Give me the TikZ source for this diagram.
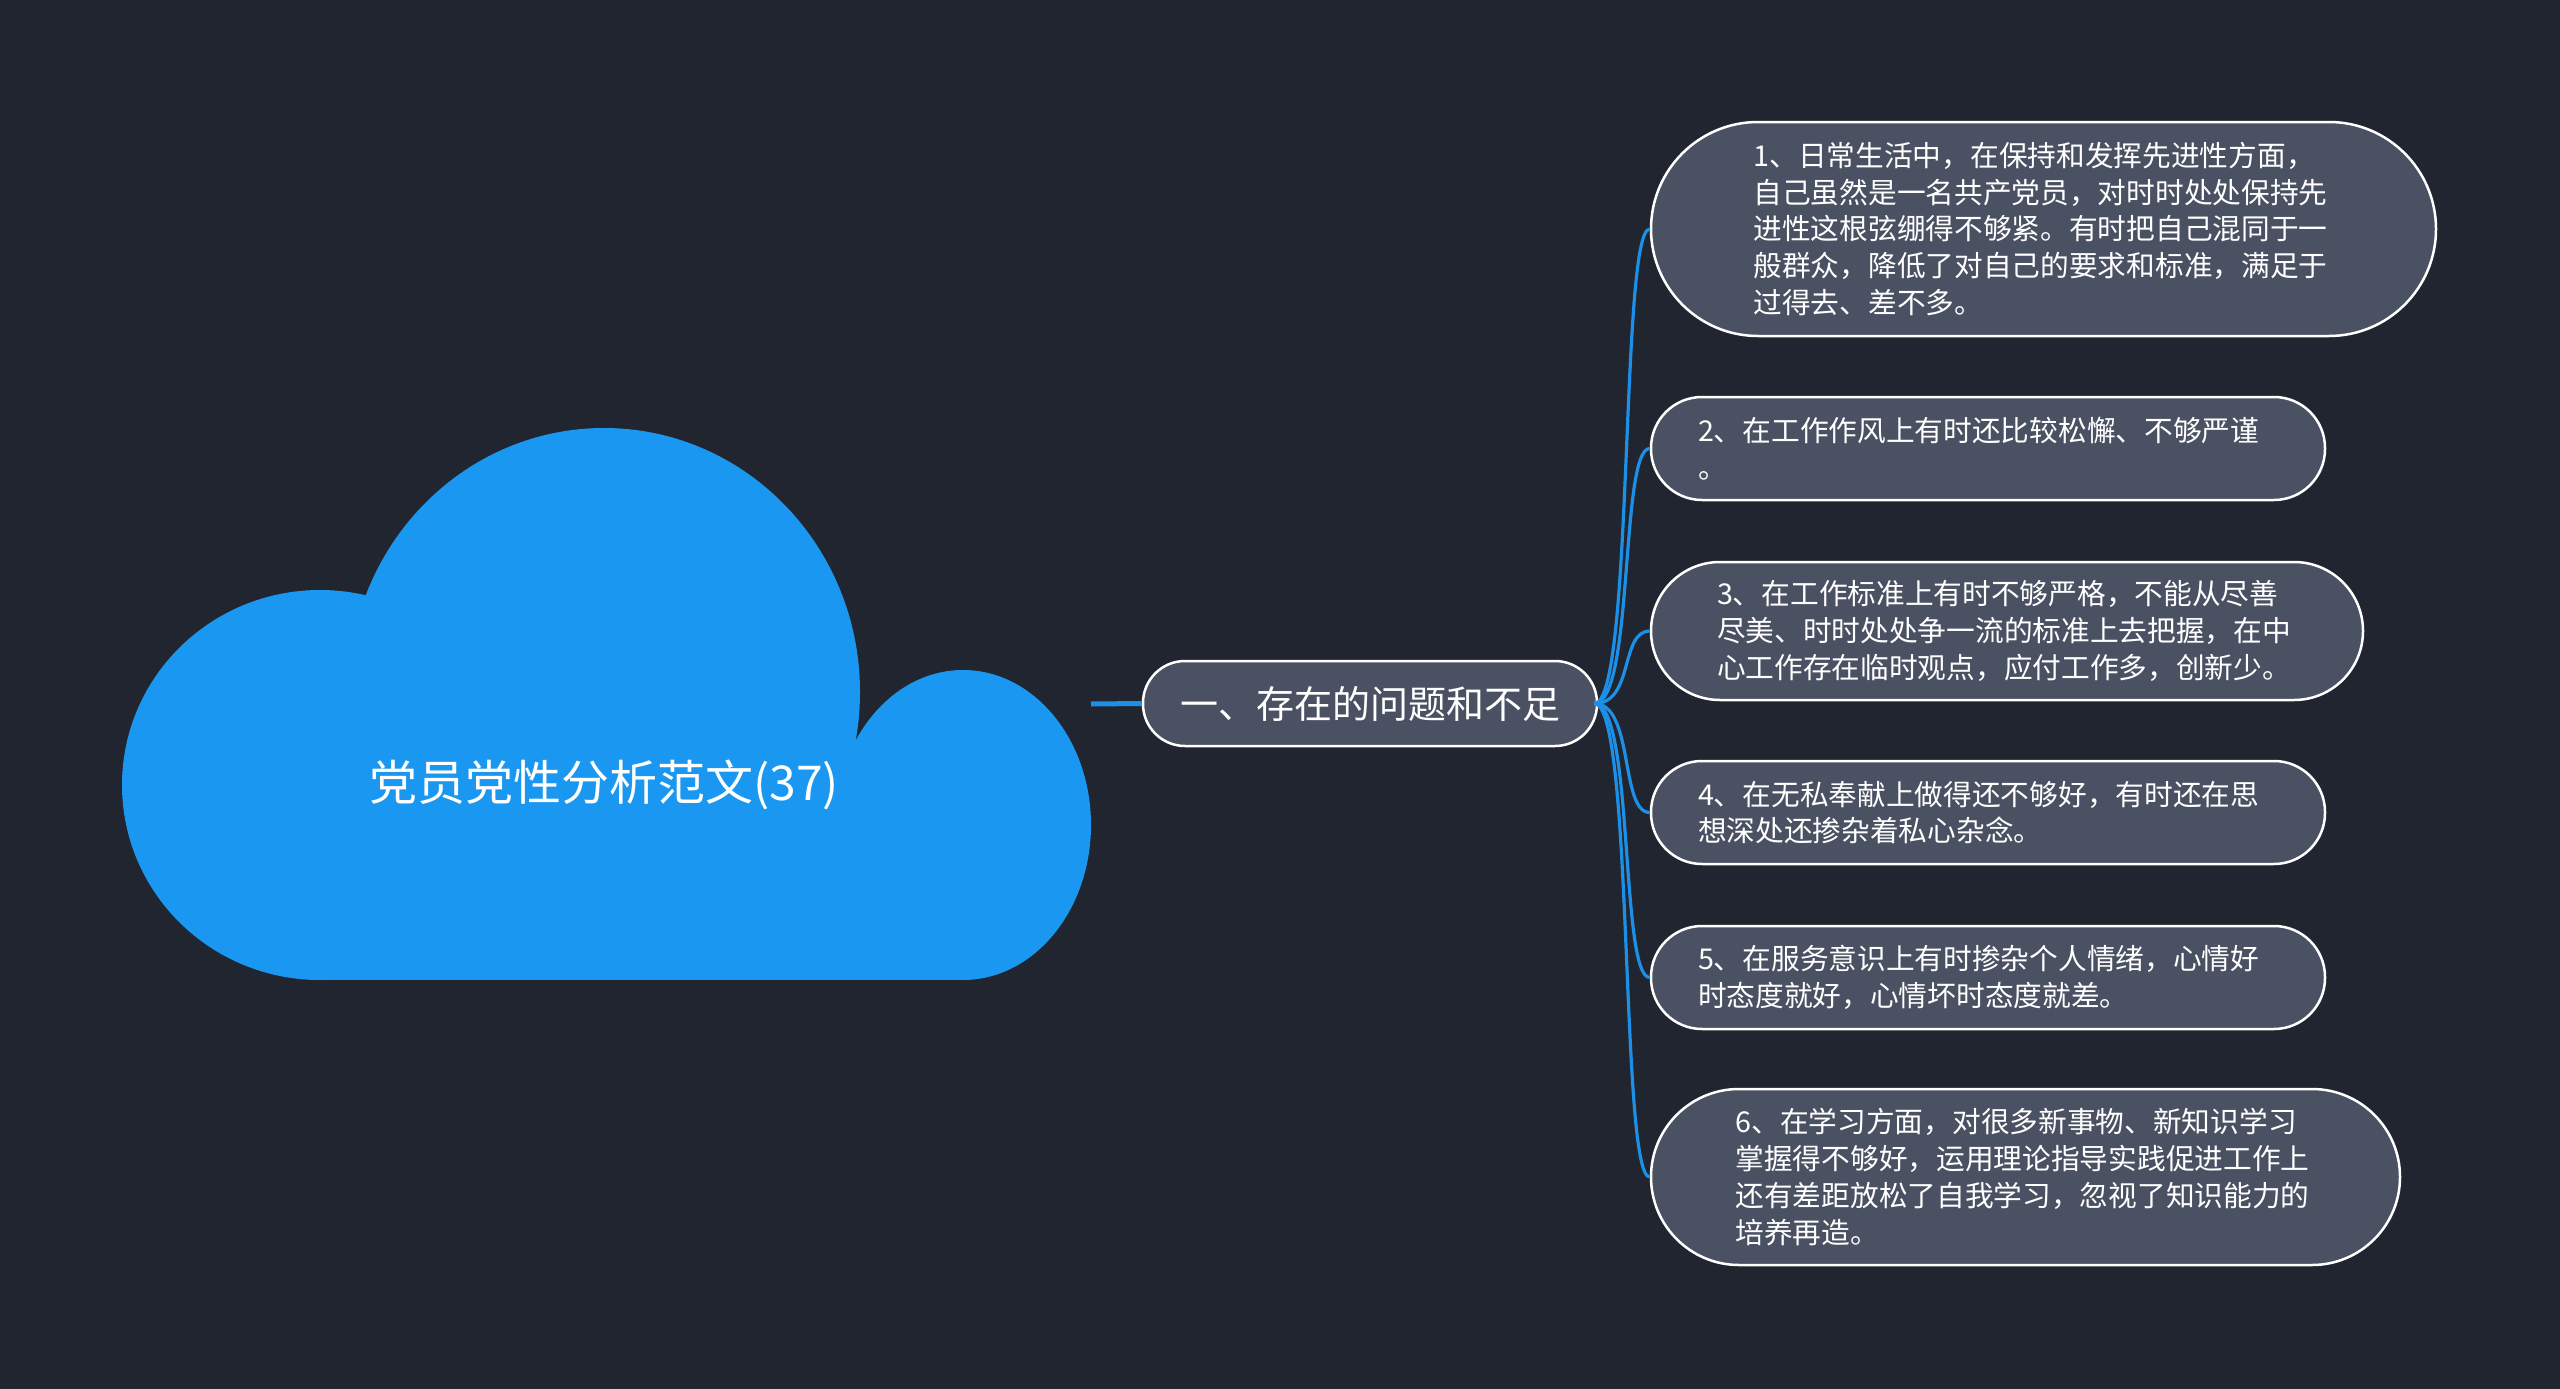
\documentclass[tikz,border=0pt]{standalone}
\usepackage{fontspec}
\newfontfamily\cjk{Noto Sans CJK SC}
\usetikzlibrary{calc}
\definecolor{bgc}{HTML}{21252F}
\definecolor{cloudc}{HTML}{1A97F0}
\definecolor{linec}{HTML}{1C8FE6}
\definecolor{leafc}{HTML}{4A5162}
\tikzset{
  leafbox/.style={draw=white, line width=2.5pt, fill=leafc, text=white,
    font=\cjk\fontsize{28.7}{36.7}\selectfont, align=left, text width=580pt, inner sep=0pt},
  pill/.style n args={3}{minimum width=#1pt, minimum height=#2pt, rounded corners=#3pt},
  mainbox/.style={draw=white, line width=2.5pt, fill=leafc, text=white,
    font=\cjk\fontsize{38}{46}\selectfont, inner sep=0pt},
  conn/.style={draw=linec, line width=3.2pt},
  rootline/.style={draw=linec, line width=5pt},
}
\begin{document}
\begin{tikzpicture}[x=1pt,y=-1pt]
\useasboundingbox (0,0) rectangle (2560,1389);
\fill[bgc] (0,0) rectangle (2560,1389);
% cloud
\begin{scope}[cloudc]
  \fill (604,692) ellipse [x radius=256, y radius=264];
  \fill (320,785) ellipse [x radius=198, y radius=195];
  \fill (963,825) ellipse [x radius=128, y radius=155];
  \fill (320,800) rectangle (963,980);
\end{scope}
\node[text=white, font=\cjk\fontsize{48}{56}\selectfont] (root) at (604,785) {党员党性分析范文(37)};
\coordinate (cloudR) at (1091,704);
% main topic
\node[mainbox, pill={454}{85}{42}] (main) at (1370,703.5) {一、存在的问题和不足};
\draw[rootline] (cloudR) -- (main.west);
% leaves
\node[leafbox, pill={785}{214}{107}] (l1) at (2043.5,229)
 {1、日常生活中，在保持和发挥先进性方面，\\自己虽然是一名共产党员，对时时处处保持先\\进性这根弦绷得不够紧。有时把自己混同于一\\般群众，降低了对自己的要求和标准，满足于\\过得去、差不多。};
\node[leafbox, pill={674}{103}{51}] (l2) at (1988,448.5)
 {2、在工作作风上有时还比较松懈、不够严谨\\。};
\node[leafbox, pill={712}{138}{69}] (l3) at (2007,631)
 {3、在工作标准上有时不够严格，不能从尽善\\尽美、时时处处争一流的标准上去把握，在中\\心工作存在临时观点，应付工作多，创新少。};
\node[leafbox, pill={674}{103}{51}] (l4) at (1988,812.5)
 {4、在无私奉献上做得还不够好，有时还在思\\想深处还掺杂着私心杂念。};
\node[leafbox, pill={674}{103}{51}] (l5) at (1988,977.5)
 {5、在服务意识上有时掺杂个人情绪，心情好\\时态度就好，心情坏时态度就差。};
\node[leafbox, pill={749}{176}{88}] (l6) at (2025.5,1177)
 {6、在学习方面，对很多新事物、新知识学习\\掌握得不够好，运用理论指导实践促进工作上\\还有差距放松了自我学习，忽视了知识能力的\\培养再造。};
% connectors
\foreach \n in {l1,l2,l3,l4,l5,l6}
  \draw[conn] ($(main.east)+(-4,0)$) .. controls +(40,0) and +(-30,0) .. (\n.west);
\end{tikzpicture}
\end{document}
